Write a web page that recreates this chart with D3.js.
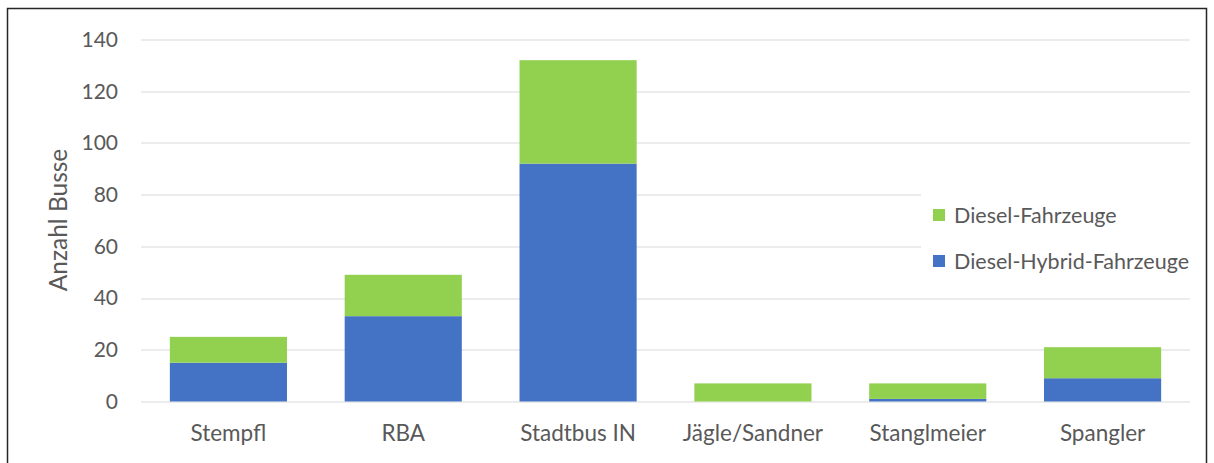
<!DOCTYPE html>
<html lang="de">
<head>
<meta charset="UTF-8">
<title>Anzahl Busse</title>
<script src="https://d3js.org/d3.v7.min.js"></script>
<style>
  body { margin: 0; background: #fff; }
  text { font-family: "Lato", "Open Sans", sans-serif; fill: #595959; }
  .grid line { stroke: #d9d9d9; stroke-width: 1px; }
</style>
</head>
<body>
<div id="chart"></div>
<script>
const categories = ["Stempfl", "RBA", "Stadtbus IN", "Jägle/Sandner", "Stanglmeier", "Spangler"];
const hybrid = [15, 33, 92, 0, 1, 9];
const diesel = [10, 16, 40, 7, 6, 12];
const yTicks = [0, 20, 40, 60, 80, 100, 120, 140];
const seriesNames = ["Diesel-Hybrid-Fahrzeuge", "Diesel-Fahrzeuge"];
const colors = ["#4472C4", "#92D050"];

const W = 1214, H = 463;
const margin = {top: 39.5, right: 24, bottom: 62, left: 141};
const width = W - margin.left - margin.right;
const height = 401.5 - margin.top;

const svg = d3.select("#chart").append("svg")
  .attr("width", W).attr("height", H);

// outer frame
svg.append("rect")
  .attr("x", 7.5).attr("y", 8.5)
  .attr("width", 1199).attr("height", 470)
  .attr("fill", "none").attr("stroke", "#262626").attr("stroke-width", 1.5);

const g = svg.append("g").attr("transform", `translate(${margin.left},${margin.top})`);

const x = d3.scaleBand().domain(categories).range([0, width]).paddingInner(0.33).paddingOuter(0.165);
const y = d3.scaleLinear().domain([0, 140]).range([height, 0]);

// gridlines
g.append("g").attr("class", "grid")
  .selectAll("line").data(yTicks).join("line")
  .attr("x1", 0).attr("x2", width)
  .attr("y1", d => Math.round(y(d)) + 0.5).attr("y2", d => Math.round(y(d)) + 0.5);

// y tick labels
g.append("g").selectAll("text").data(yTicks).join("text")
  .attr("x", -23).attr("y", d => y(d))
  .attr("dy", "0.35em")
  .attr("text-anchor", "end")
  .style("font-size", "21px")
  .text(d => d);

// stacked bars
const rows = categories.map((c, i) => ({cat: c, hybrid: hybrid[i], diesel: diesel[i]}));
const stack = d3.stack().keys(["hybrid", "diesel"])(rows);

g.append("g").selectAll("g").data(stack).join("g")
  .attr("fill", (d, i) => colors[i])
  .selectAll("rect").data(d => d).join("rect")
  .attr("x", d => x(d.data.cat))
  .attr("y", d => y(d[1]))
  .attr("width", x.bandwidth())
  .attr("height", d => y(d[0]) - y(d[1]));

// category labels
g.append("g").selectAll("text").data(categories).join("text")
  .attr("x", d => x(d) + x.bandwidth() / 2)
  .attr("y", height + 39)
  .attr("text-anchor", "middle")
  .style("font-size", "22.5px")
  .text(d => d);

// y axis title
svg.append("text")
  .attr("transform", "translate(67,220) rotate(-90)")
  .attr("text-anchor", "middle")
  .style("font-size", "24.5px")
  .text("Anzahl Busse");

// legend (white box hides gridlines behind it)
const legend = svg.append("g");
legend.append("rect")
  .attr("x", 921).attr("y", 185).attr("width", 275).attr("height", 95)
  .attr("fill", "#fff");
const legendItems = [
  {name: seriesNames[1], color: colors[1], cy: 215},
  {name: seriesNames[0], color: colors[0], cy: 261}
];
legendItems.forEach(it => {
  legend.append("rect")
    .attr("x", 933).attr("y", it.cy - 6).attr("width", 12).attr("height", 12)
    .attr("fill", it.color);
  legend.append("text")
    .attr("x", 954).attr("y", it.cy).attr("dy", "0.35em")
    .style("font-size", "21.5px")
    .text(it.name);
});
</script>
</body>
</html>
